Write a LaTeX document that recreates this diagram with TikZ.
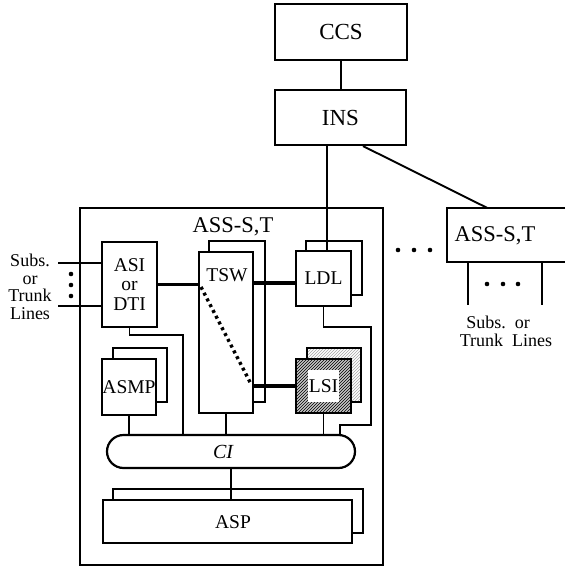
\documentclass[tikz,border=0pt]{standalone}
\usepackage{fontspec}
\setmainfont{Liberation Serif}
\usetikzlibrary{patterns,calc}
\begin{document}
\begin{tikzpicture}[x=1pt,y=-1pt,
  box/.style={draw, line width=2.2pt, fill=white, inner sep=0pt, font=\fontsize{19.5}{19.5}\selectfont},
  topbox/.style={box, font=\fontsize{23}{23}\selectfont},
  conn/.style={line width=1.9pt},
  thickconn/.style={line width=3.4pt},
  lbl/.style={inner sep=0pt, align=center, font=\fontsize{19.5}{19.5}\selectfont},
  sublbl/.style={inner sep=0pt, align=center, font=\fontsize{18}{17.5}\selectfont},
  lsiback/.style={box, path picture={\fill[pattern=north east lines, pattern color=gray!70] (path picture bounding box.south west) rectangle (path picture bounding box.north east);}},
  lsifront/.style={box, fill=gray!45, path picture={
     \fill[pattern=north east lines] (path picture bounding box.south west) rectangle (path picture bounding box.north east);
     \fill[white] ($(path picture bounding box.south west)+(12,-11)$) rectangle ($(path picture bounding box.north east)+(-12,11)$);}}
]
\useasboundingbox (0,0) rectangle (565,567);

% top boxes
\node[topbox, minimum width=132pt, minimum height=56pt] (ccs) at (341,32) {CCS};
\node[topbox, minimum width=131pt, minimum height=55pt] (ins) at (340.5,117.5) {INS};

% big ASS box
\node[draw, line width=2.6pt, minimum width=303pt, minimum height=357pt, inner sep=0pt] (ass) at (231.5,386.5) {};
\node[lbl, font=\fontsize{22.5}{22.5}\selectfont] (asst) at (233,227) {ASS-S,T};

% ASI
\node[box, align=center, minimum width=55pt, minimum height=85pt] (asi) at (129.5,284.5) {ASI\\or\\DTI};

% TSW stack
\node[box, minimum width=56pt, minimum height=161pt] (tswb) at (237,321.5) {};
\node[box, minimum width=54pt, minimum height=161pt] (tsw) at (226,332.5) {};
\node[lbl] (tswt) at (227,275) {TSW};

% LDL stack
\node[box, minimum width=56pt, minimum height=54pt] (ldlb) at (334,268) {};
\node[box, minimum width=55pt, minimum height=55pt] (ldl) at (323.5,278.5) {LDL};

% LSI stack
\node[lsiback, minimum width=54pt, minimum height=54pt] (lsib) at (334,375) {};
\node[lsifront, minimum width=55pt, minimum height=54pt] (lsi) at (323.5,386) {LSI};

% ASMP stack
\node[box, minimum width=54pt, minimum height=54pt] (asmpb) at (140,375) {};
\node[box, minimum width=54pt, minimum height=56pt] (asmp) at (129,387) {ASMP};

% CI
\node[box, rounded corners=16.5pt, minimum width=248pt, minimum height=33pt] (ci) at (231,451.5) {};
\node[lbl, font=\fontsize{20}{20}\selectfont\itshape] (cit) at (223,452) {CI};

% ASP stack
\node[box, minimum width=250pt, minimum height=44pt] (aspb) at (238,511) {};
\node[box, minimum width=249pt, minimum height=43pt] (asp) at (227.5,521.5) {};
\node[lbl] (aspt) at (233,522) {ASP};

% right ASS box (open on the right)
\node[minimum width=118pt, minimum height=54pt, inner sep=0pt] (rass) at (506,235) {};
\draw[line width=2.2pt] (rass.north east) -- (rass.north west) -- (rass.south west) -- (rass.south east);
\node[lbl, font=\fontsize{22.5}{22.5}\selectfont] (rasst) at (495,236) {ASS-S,T};

% top connectors
\draw[conn] (ccs.south) -- (ccs.south |- ins.north);
\draw[conn] ([xshift=-13.5pt]ins.south) -- ([xshift=-13.5pt]ins.south |- ldl.north);
\draw[conn] ([xshift=22.5pt]ins.south) -- ([xshift=-19pt]rass.north);

% dots between the ASS boxes
\fill (398,250) circle (2.3pt) (414,250) circle (2.3pt) (430,250) circle (2.3pt);

% left subscriber lines
\coordinate (s1) at (58,263);
\coordinate (s2) at (58,306);
\draw[conn] (s1) -- (s1 -| asi.west);
\draw[conn] (s2) -- (s2 -| asi.west);
\fill (71,274) circle (2.3pt) (71,285) circle (2.3pt) (71,296) circle (2.3pt);
\node[sublbl] (subsl) at (30,287) {Subs.\\or\\Trunk\\Lines};

% right subscriber lines
\coordinate (r1) at (468,305);
\coordinate (r2) at (542,305);
\draw[conn] (r1 |- rass.south) -- (r1);
\draw[conn] (r2 |- rass.south) -- (r2);
\fill (487,284) circle (2.3pt) (503,284) circle (2.3pt) (518,284) circle (2.3pt);
\node[sublbl] (subsr) at (498,322) {Subs.\ \ or};
\node[sublbl] (trunkr) at (506,340) {Trunk\ \ Lines};

% switch connections
\coordinate (yl) at (0,283);
\draw[thickconn] (asi.east) -- (asi.east -| tsw.west);
\draw[thickconn] (tsw.east |- yl) -- (ldl.west |- yl);
\draw[thickconn] (tsw.east |- lsi.west) -- (lsi.west);
\coordinate (d1) at (201,287);
\coordinate (d2) at (251,384);
\draw[line width=3.4pt, dash pattern=on 3pt off 3.5pt] (d1) -- (d2);

% connections to CI
\coordinate (ap) at (183,335);
\draw[conn] (asi.south) |- (ap) -- (ap |- ci.north);
\draw[conn] (asmp.south) -- (asmp.south |- ci.north);
\draw[conn] (tsw.south) -- (tsw.south |- ci.north);
\draw[conn] (lsi.south) -- (lsi.south |- ci.north);
\coordinate (l1) at (371,327);
\coordinate (l2) at (340,425);
\draw[conn] (ldl.south) |- (l1) |- (l2) -- (l2 |- ci.north);
\draw[conn] (ci.south) -- (ci.south |- asp.north);
\end{tikzpicture}
\end{document}
